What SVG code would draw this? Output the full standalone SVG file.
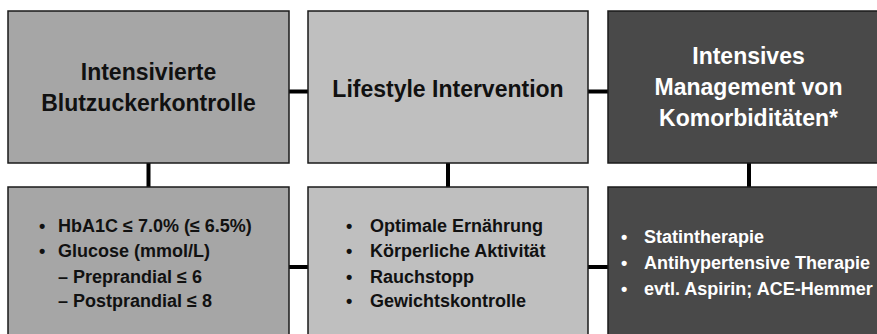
<svg xmlns="http://www.w3.org/2000/svg" width="877" height="334" viewBox="0 0 877 334">
<style>
.box{stroke:#1a1a1a;stroke-width:1.5}
.b1{fill:#a6a6a6}.b2{fill:#bfbfbf}.b3{fill:#494949}
.t{font-family:"Liberation Sans",Arial,sans-serif;font-weight:700;fill:#111}
.w{fill:#fff}
.h{font-size:23px;text-anchor:middle}
.s{font-size:18px}
.con{stroke:#000;stroke-width:4;fill:none}
</style>
<rect width="877" height="334" fill="#fff"/>
<g id="connectors">
<path class="con" d="M289 91.5H308M588 91.5H608M289 267H308M588 267H608M148.5 163V187M448 163V187M749 163V187"/>
</g>
<g id="top1">
<rect class="box b1" x="8" y="11" width="281" height="152"/>
<text class="t h" x="148.5" y="80">Intensivierte</text>
<text class="t h" x="148.5" y="111">Blutzuckerkontrolle</text>
</g>
<g id="top2">
<rect class="box b2" x="308" y="11" width="280" height="152"/>
<text class="t h" x="448" y="97">Lifestyle Intervention</text>
</g>
<g id="top3">
<rect class="box b3" x="608" y="11" width="281" height="152"/>
<text class="t h w" x="748.5" y="64">Intensives</text>
<text class="t h w" x="748.5" y="95">Management von</text>
<text class="t h w" x="748.5" y="126">Komorbiditäten*</text>
</g>
<g id="bottom1">
<rect class="box b1" x="8" y="187" width="281" height="160"/>
<text class="t s" x="39" y="232">•</text><text class="t s" x="58" y="232">HbA1C ≤ 7.0% (≤ 6.5%)</text>
<text class="t s" x="39" y="257">•</text><text class="t s" x="58" y="257">Glucose (mmol/L)</text>
<text class="t s" x="58" y="283">– Preprandial ≤ 6</text>
<text class="t s" x="58" y="307">– Postprandial ≤ 8</text>
</g>
<g id="bottom2">
<rect class="box b2" x="308" y="187" width="280" height="160"/>
<text class="t s" x="346" y="232">•</text><text class="t s" x="370" y="232">Optimale Ernährung</text>
<text class="t s" x="346" y="257">•</text><text class="t s" x="370" y="257">Körperliche Aktivität</text>
<text class="t s" x="346" y="283">•</text><text class="t s" x="370" y="283">Rauchstopp</text>
<text class="t s" x="346" y="307">•</text><text class="t s" x="370" y="307">Gewichtskontrolle</text>
</g>
<g id="bottom3">
<rect class="box b3" x="608" y="187" width="281" height="160"/>
<text class="t s w" x="621" y="243">•</text><text class="t s w" x="644" y="243">Statintherapie</text>
<text class="t s w" x="621" y="269">•</text><text class="t s w" x="644" y="269">Antihypertensive Therapie</text>
<text class="t s w" x="621" y="295">•</text><text class="t s w" x="644" y="295">evtl. Aspirin; ACE-Hemmer</text>
</g>
</svg>
